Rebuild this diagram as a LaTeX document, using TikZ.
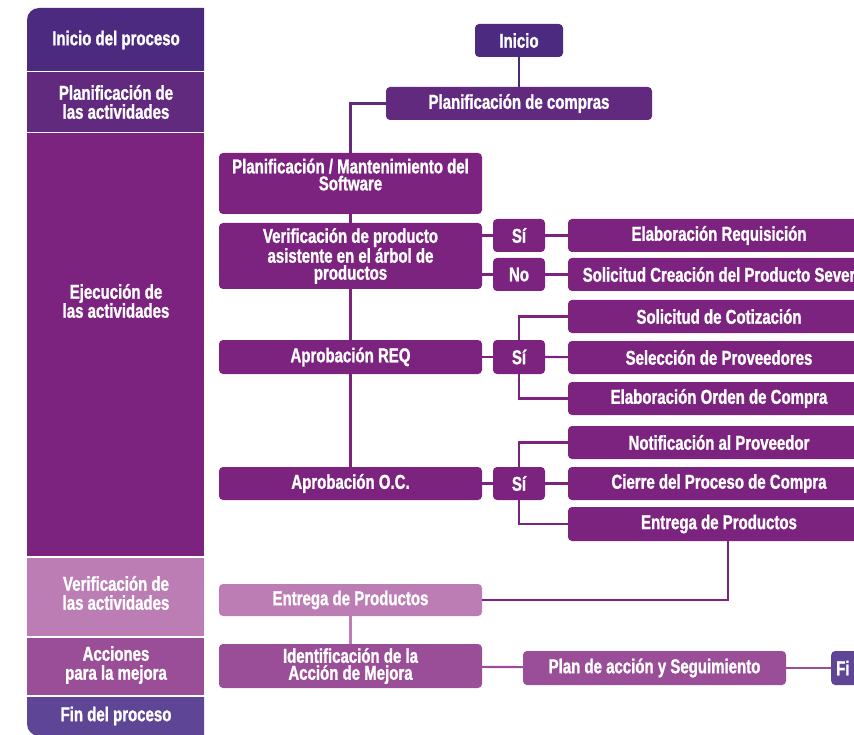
\documentclass[tikz,border=0pt]{standalone}
\usepackage{fontspec}
\setmainfont{Liberation Sans}[FakeStretch=0.75, FakeBold=1.2]
\usetikzlibrary{positioning}

\definecolor{morado1}{HTML}{4B2A7F}
\definecolor{morado2}{HTML}{622A7E}
\definecolor{morado3}{HTML}{7C2380}
\definecolor{lila}{HTML}{BB7DB3}
\definecolor{malva}{HTML}{9A4E97}
\definecolor{violeta}{HTML}{5E4595}

\begin{document}
\begin{tikzpicture}[x=1pt, y=-1pt,
    caja/.style={rounded corners=4pt, fill=morado3, text=white, align=center, inner sep=0pt,
      font=\bfseries\fontsize{20}{17}\selectfont, minimum height=33pt},
    ancha/.style={caja, minimum width=263pt},
    derecha/.style={caja, minimum width=302pt},
    sino/.style={caja, minimum width=52pt},
    etapa/.style={text=white, align=center, font=\bfseries\fontsize{20}{19}\selectfont},
    linea/.style={morado3, line width=2.2pt}]
    \useasboundingbox (0,0) rectangle (854,735);
    \clip (0,0) rectangle (854,735);

    % columna de etapas
    \fill[morado1] (27,71) -- (27,20) arc[start angle=180, end angle=270, radius=12] -- (204,8) -- (204,71) -- cycle;
    \fill[morado2] (27,72.5) rectangle (204,132);
    \fill[morado3] (27,133.5) rectangle (204,556);
    \fill[lila] (27,558) rectangle (204,636);
    \fill[malva] (27,638) rectangle (204,695);
    \fill[violeta] (27,697) -- (27,724) arc[start angle=180, end angle=90, radius=12] -- (204,736) -- (204,697) -- cycle;

    \node[etapa] (etInicio) at (116,40) {Inicio del proceso};
    \node[etapa] (etPlan) at (116,102) {Planificación de\\las actividades};
    \node[etapa] (etEjec) at (116,301) {Ejecución de\\las actividades};
    \node[etapa] (etVerif) at (116,593) {Verificación de\\las actividades};
    \node[etapa] (etAcc) at (116,665) {Acciones\\para la mejora};
    \node[etapa] (etFin) at (116,716) {Fin del proceso};

    % flujo
    \node[caja, fill=morado1, minimum width=88pt] (inicio) at (519,40.5) {Inicio};
    \node[caja, fill=morado2, minimum width=266pt] (compras) at (519,103.5) {Planificación de compras};
    \node[ancha, minimum height=61pt] (software) at (350.5,183.5) {Planificación / Mantenimiento del\\Software\\[1pt]};
    \node[ancha, minimum height=66pt] (verifprod) at (350.5,256) {Verificación de producto\\asistente en el árbol de\\productos};
    \node[sino] (si1) at (519,235.5) {Sí};
    \node[sino] (no1) at (519,274.5) {No};
    \node[derecha] (requisicion) at (719,235.5) {Elaboración Requisición};
    \node[derecha] (creacion) at (719,274.5) {Solicitud Creación del Producto Sever};

    \node[ancha, minimum height=34pt] (aprreq) at (350.5,357) {Aprobación REQ};
    \node[sino, minimum height=34pt] (si2) at (519,357) {Sí};
    \node[derecha] (cotizacion) at (719,316.5) {Solicitud de Cotización};
    \node[derecha] (seleccion) at (719,357.5) {Selección de Proveedores};
    \node[derecha] (orden) at (719,398.5) {Elaboración Orden de Compra};

    \node[ancha] (aproc) at (350.5,483.5) {Aprobación O.C.};
    \node[sino] (si3) at (519,483.5) {Sí};
    \node[derecha] (notificacion) at (719,442.5) {Notificación al Proveedor};
    \node[derecha] (cierre) at (719,483.5) {Cierre del Proceso de Compra};
    \node[derecha, minimum height=34pt] (entrega) at (719,524) {Entrega de Productos};

    \node[ancha, fill=lila, minimum height=32pt] (entregaV) at (350.5,600) {Entrega de Productos};
    \node[ancha, fill=malva, minimum height=44pt] (mejora) at (350.5,666) {Identificación de la\\Acción de Mejora};
    \node[ancha, fill=malva, minimum height=34pt] (seguimiento) at (654.5,668) {Plan de acción y Seguimiento};
    \node[caja, fill=violeta, minimum height=34pt, anchor=west, align=left, text width=50pt, inner xsep=5pt] (fin) at (831,668) {Fi};

    % conectores
    \draw[linea, morado1] (inicio) -- (compras);
    \draw[linea, morado2] (compras.west) -| (software.north);
    \draw[linea] (software) -- (verifprod);
    \draw[linea] (verifprod) -- (aprreq);
    \draw[linea] (aprreq) -- (aproc);
    \draw[linea] (si1.west -| verifprod.east) -- (si1.west);
    \draw[linea] (no1.west -| verifprod.east) -- (no1.west);
    \draw[linea] (si1) -- (requisicion);
    \draw[linea] (no1) -- (creacion);
    \draw[linea] (aprreq) -- (si2);
    \draw[linea] (si2) -- (seleccion);
    \draw[linea] (cotizacion.west) -| (si2.north);
    \draw[linea] (orden.west) -| (si2.south);
    \draw[linea] (aproc) -- (si3);
    \draw[linea] (si3) -- (cierre);
    \draw[linea] (notificacion.west) -| (si3.north);
    \draw[linea] (entrega.west) -| (si3.south);
    \draw[linea] ([xshift=9pt]entrega.south) |- (entregaV.east);
    \draw[linea, lila] (entregaV) -- (mejora);
    \draw[linea, malva] (mejora) -- (seguimiento);
    \draw[linea, malva] (seguimiento) -- (fin);
\end{tikzpicture}
\end{document}
